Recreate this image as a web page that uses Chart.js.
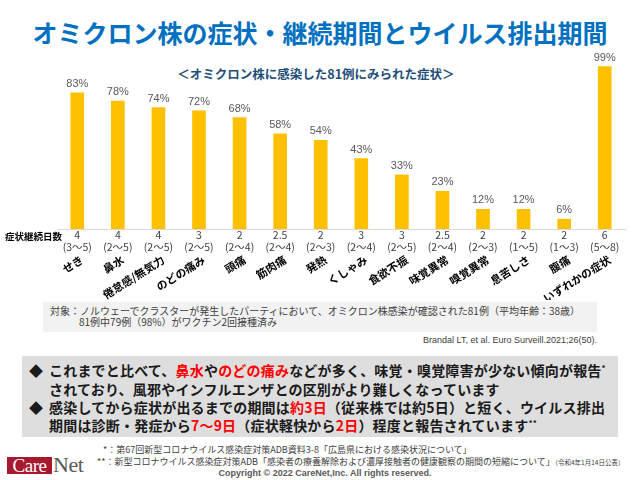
<!DOCTYPE html>
<html lang="ja">
<head>
<meta charset="utf-8">
<script src="https://cdn.jsdelivr.net/npm/chart.js@4.4.1/dist/chart.umd.min.js"></script>
<style>
  html, body { margin: 0; padding: 0; background: #fff; }
  body { width: 640px; height: 480px; position: relative; overflow: hidden;
         font-family: "Noto Sans CJK JP", "Noto Sans", sans-serif; }
  .abs { position: absolute; white-space: nowrap; }
  #title { left: 0; width: 640px; top: 17px; line-height: 30px; text-align: center;
           font-size: 25px; font-weight: bold; color: #0070C0; }
  #subtitle { left: 0; width: 632px; top: 65px; line-height: 18px; text-align: center;
              font-size: 12.5px; font-weight: bold; color: #1F4E79; }
  #chartBox { left: 0; top: 0; }
  .box1 { left: 43px; top: 302px; width: 554px; height: 30px; background: #F2F2F2; }
  .note { font-size: 10px; line-height: 12px; color: #404040; }
  .cite { right: 43px; top: 334px; font-family: "Liberation Sans", Arial, sans-serif;
          font-size: 9px; line-height: 12px; color: #404040; }
  .box2 { left: 22px; top: 356px; width: 596px; height: 81px; background: #DEDEDE; }
  .pt { font-size: 14px; line-height: 18px; font-weight: bold; color: #1a1a1a; letter-spacing: 0.2px; }
  .red { color: #FF0000; }
  .sup { font-size: 8px; position: relative; top: -5px; }
  .foot { font-size: 9px; line-height: 11px; color: #404040; }
  .foot small { font-size: 6.5px; }
  .copy { left: 0; width: 650px; text-align: center; top: 467px; line-height: 12px;
          font-family: "Liberation Sans", Arial, sans-serif; font-weight: bold;
          font-size: 9px; color: #595959; }
  .logoCare { left: 7px; top: 457px; width: 45px; height: 17px; background: #A6192E; color: #fff;
              font-family: "Liberation Serif", "DejaVu Serif", serif; font-size: 19px; line-height: 17px;
              text-align: center; letter-spacing: -0.5px; }
  .logoNet { left: 53px; top: 455px; font-family: "Liberation Serif", "DejaVu Serif", serif;
             font-size: 22px; line-height: 20px; color: #595959; letter-spacing: -0.5px; }
</style>
</head>
<body>
<div id="title" class="abs">オミクロン株の症状・継続期間とウイルス排出期間</div>
<div id="subtitle" class="abs">＜オミクロン株に感染した81例にみられた症状＞</div>

<canvas id="chartBox" class="abs" width="640" height="300"></canvas>

<div class="abs box1"></div>
<div class="abs note" style="left:50px; top:305px;">対象：ノルウェーでクラスターが発生したパーティにおいて、オミクロン株感染が確認された81例（平均年齢：38歳）</div>
<div class="abs note" style="left:79px; top:316px;">81例中79例（98%）がワクチン2回接種済み</div>
<div class="abs cite">Brandal LT, et al. Euro Surveill.2021;26(50).</div>

<div class="abs box2"></div>
<div class="abs pt" style="left:29px; top:361px;">◆</div>
<div class="abs pt" style="left:49px; top:361px;">これまでと比べて、<span class="red">鼻水</span>や<span class="red">のどの痛み</span>などが多く、味覚・嗅覚障害が少ない傾向が報告<span class="sup">*</span></div>
<div class="abs pt" style="left:49px; top:380px;">されており、風邪やインフルエンザとの区別がより難しくなっています</div>
<div class="abs pt" style="left:29px; top:398px;">◆</div>
<div class="abs pt" style="left:49px; top:398px;">感染してから症状が出るまでの期間は<span class="red">約3日</span>（従来株では約5日）と短く、ウイルス排出</div>
<div class="abs pt" style="left:49px; top:416px;">期間は診断・発症から<span class="red">7～9日</span>（症状軽快から<span class="red">2日</span>）程度と報告されています<span class="sup">**</span></div>

<div class="abs foot" style="left:103px; top:444px;">*：第67回新型コロナウイルス感染症対策ADB資料3-8「広島県における感染状況について」</div>
<div class="abs foot" style="left:97px; top:456px;">**：新型コロナウイルス感染症対策ADB「感染者の療養解除および濃厚接触者の健康観察の期間の短縮について」<small>（令和4年1月14日公表）</small></div>
<div class="abs copy">Copyright © 2022 CareNet,Inc. All rights reserved.</div>
<div class="abs logoCare">Care</div>
<div class="abs logoNet">Net</div>

<script>
// data
const symptoms = ['せき', '鼻水', '倦怠感/無気力', 'のどの痛み', '頭痛', '筋肉痛', '発熱',
                  'くしゃみ', '食欲不振', '味覚異常', '嗅覚異常', '息苦しさ', '腹痛', 'いずれかの症状'];
const percentages = [83, 78, 74, 72, 68, 58, 54, 43, 33, 23, 12, 12, 6, 99];
const durationDays = ['4', '4', '4', '3', '2', '2.5', '2', '3', '3', '2.5', '2', '2', '2', '6'];
const durationRanges = ['(3～5)', '(2～5)', '(2～5)', '(2～5)', '(2～4)', '(2～4)', '(2～3)',
                        '(2～4)', '(2～5)', '(2～4)', '(2～3)', '(1～5)', '(1～3)', '(5～8)'];
const durationTitle = '症状継続日数';

const jpFont = '"Noto Sans CJK JP", "Noto Sans", sans-serif';
const labelAngle = -32 * Math.PI / 180;


// percent labels, row title and slanted symptom names
const barLabels = {
    id: 'barLabels',
    afterDatasetsDraw(chart) {
        const ctx = chart.ctx;
        const meta = chart.getDatasetMeta(0);
        const xScale = chart.scales.x;

        ctx.save();
        ctx.font = '11px "Liberation Sans", Arial, sans-serif';
        ctx.fillStyle = '#595959';
        ctx.textAlign = 'center';
        ctx.textBaseline = 'middle';
        meta.data.forEach((bar, i) => {
            ctx.fillText(percentages[i] + '%', bar.x, bar.y - 9);
        });

        ctx.font = 'bold 9.5px ' + jpFont;
        ctx.fillStyle = '#000';
        ctx.textAlign = 'left';
        ctx.fillText(durationTitle, 5, xScale.top + 7);

        // symptom names under the duration rows
        ctx.font = 'bold 11px ' + jpFont;
        ctx.textAlign = 'right';
        ctx.textBaseline = 'top';
        symptoms.forEach((name, i) => {
            const x = xScale.getPixelForTick(i);
            ctx.save();
            ctx.translate(x + 2, xScale.top + 25);
            ctx.rotate(labelAngle);
            ctx.fillText(name, 0, 0);
            ctx.restore();
        });
        ctx.restore();
    }
};


function initializeChart() {
    const ctx = document.getElementById('chartBox').getContext('2d');

    new Chart(ctx, {
        type: 'bar',
        data: {
            labels: durationDays.map((d, i) => [d, durationRanges[i]]),
            datasets: [{
                data: percentages,
                backgroundColor: '#FFC000',
                barThickness: 13
            }]
        },
        options: {
            responsive: false,
            animation: false,
            layout: {
                padding: { top: 65, left: 57, right: 15, bottom: 0 }
            },
            plugins: {
                legend: { display: false },
                tooltip: { enabled: false }
            },
            scales: {
                y: {
                    display: false,
                    min: 0,
                    max: 100
                },
                x: {
                    position: 'bottom',
                    grid: { display: false, drawTicks: false },
                    border: { display: true, color: '#D9D9D9', width: 1 },
                    ticks: {
                        autoSkip: false,
                        maxRotation: 0,
                        padding: 0,
                        color: '#404040',
                        font: { family: jpFont, size: 10.5, lineHeight: 1.15 }
                    },
                    // room for the two duration rows and the slanted names
                    afterFit: (scale) => { scale.height = 71; }
                }
            }
        },
        plugins: [barLabels]
    });
}


document.addEventListener('DOMContentLoaded', initializeChart);
</script>
</body>
</html>
